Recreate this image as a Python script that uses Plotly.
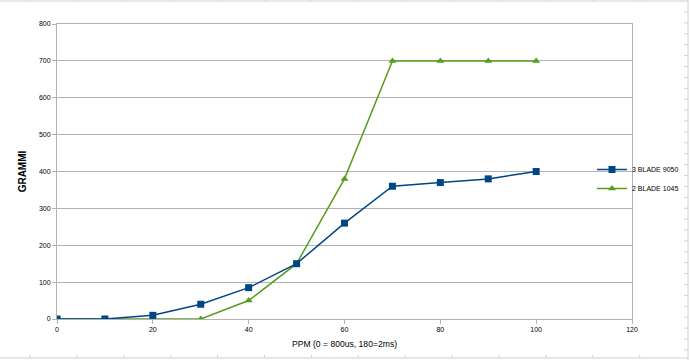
import plotly.graph_objects as go

x_vals = [0, 10, 20, 30, 40, 50, 60, 70, 80, 90, 100]
blade3_9050 = [0, 0, 10, 40, 85, 150, 260, 360, 370, 380, 400]
blade2_1045 = [0, 0, 0, 0, 50, 150, 380, 700, 700, 700, 700]
names = ["3 BLADE 9050", "2 BLADE 1045"]
x_ticks = [0, 20, 40, 60, 80, 100, 120]
y_ticks = [0, 100, 200, 300, 400, 500, 600, 700, 800]

BLUE = "#004586"
GREEN = "#579D1C"
GRID = "#b3b3b3"
FONT = "Liberation Sans, Arial, sans-serif"

fig = go.Figure()
fig.add_trace(go.Scatter(x=x_vals, y=blade2_1045, name=names[1], mode="lines+markers",
                         line=dict(color=GREEN, width=1.5),
                         marker=dict(symbol="triangle-up", size=7, color=GREEN)))
fig.add_trace(go.Scatter(x=x_vals, y=blade3_9050, name=names[0], mode="lines+markers",
                         line=dict(color=BLUE, width=1.5),
                         marker=dict(symbol="square", size=7, color=BLUE)))

W, H = 575, 295
L, B = 57, 41
def px(x):
    return (x - L) / W
def py(y):
    return (360 - B - y) / H

shapes = []
line_c = "#d0d0d0"
shapes.append(dict(type="line", xref="paper", yref="paper", x0=px(0), x1=px(688),
                   y0=py(1), y1=py(1), line=dict(color=line_c, width=1)))
shapes.append(dict(type="line", xref="paper", yref="paper", x0=px(0), x1=px(688),
                   y0=py(358), y1=py(358), line=dict(color=line_c, width=1)))
shapes.append(dict(type="line", xref="paper", yref="paper", x0=px(688), x1=px(688),
                   y0=py(360), y1=py(0), line=dict(color=line_c, width=1)))
for i in range(15):
    xx = 30 + i * 46.9
    if xx < 686:
        shapes.append(dict(type="line", xref="paper", yref="paper", x0=px(xx), x1=px(xx),
                           y0=py(1), y1=py(-2), line=dict(color=line_c, width=1)))
        shapes.append(dict(type="line", xref="paper", yref="paper", x0=px(xx), x1=px(xx),
                           y0=py(358), y1=py(355), line=dict(color=line_c, width=1)))
for j in range(33):
    yy = 12 + j * 10.9
    if yy < 356:
        shapes.append(dict(type="line", xref="paper", yref="paper", x0=px(684), x1=px(688),
                           y0=py(yy), y1=py(yy), line=dict(color=line_c, width=1)))

fig.update_layout(
    width=690, height=360,
    margin=dict(l=L, r=690 - L - W, t=360 - B - H, b=B, autoexpand=False),
    paper_bgcolor="white", plot_bgcolor="white",
    font=dict(family=FONT, size=7, color="#000000"),
    showlegend=True,
    legend=dict(x=px(592), y=py(179), xanchor="left", yanchor="middle",
                traceorder="reversed", bgcolor="rgba(0,0,0,0)",
                font=dict(size=7), itemwidth=30, tracegroupgap=0),
    xaxis=dict(range=[0, 120], tickvals=x_ticks, showgrid=False, zeroline=False,
               showline=True, linecolor=GRID, linewidth=1, mirror=True,
               ticks="outside", ticklen=4, tickcolor=GRID, automargin=False,
               title=dict(text="PPM (0 = 800us, 180=2ms)", font=dict(size=8.6), standoff=8)),
    yaxis=dict(range=[0, 800], tickvals=y_ticks, showgrid=True, gridcolor=GRID, gridwidth=1,
               zeroline=False, showline=True, linecolor=GRID, linewidth=1, mirror=True,
               ticks="outside", ticklen=4, tickcolor=GRID, automargin=False,
               title=dict(text="<b>GRAMMI</b>", font=dict(size=10), standoff=10)),
    shapes=shapes,
)

fig.write_html("out.html", config={"displayModeBar": False},
               post_script="document.body.style.margin='0';document.body.style.overflow='hidden';")
